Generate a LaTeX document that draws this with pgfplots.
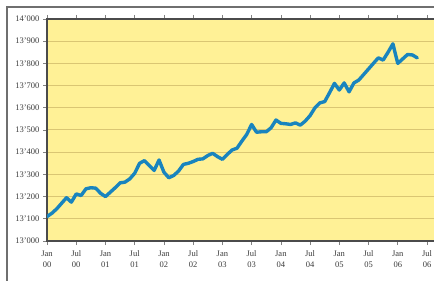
\documentclass[border=0pt]{standalone}
\usepackage{fontspec}
\setmainfont{Liberation Serif}
\usepackage{pgfplots}
\pgfplotsset{compat=1.18}
\definecolor{bgy}{RGB}{255,241,150}
\definecolor{gridy}{RGB}{218,198,115}
\definecolor{lineb}{RGB}{25,132,190}
\definecolor{bord}{RGB}{75,75,75}
\definecolor{txt}{RGB}{60,60,60}
\begin{document}
\begin{tikzpicture}[x=1pt,y=1pt]
\useasboundingbox (0,0) rectangle (434,281);
\fill[white] (0,0) rectangle (434,281);
\draw[bord!80, line width=1.2pt] (7,0) -- (7,274) -- (440,274);
\begin{axis}[
  at={(47pt,40pt)}, anchor=south west,
  scale only axis, width=399.5pt, height=222pt,
  xmin=0, xmax=82, ymin=13000, ymax=14000,
  scaled y ticks=false,
  axis background/.style={fill=bgy},
  axis line style={bord, line width=1.3pt},
  ytick={13000,13100,...,14000},
  yticklabels={13'000,13'100,13'200,13'300,13'400,13'500,13'600,13'700,13'800,13'900,14'000},
  xtick={0,6,...,78},
  xticklabels={Jan\\00,Jul\\00,Jan\\01,Jul\\01,Jan\\02,Jul\\02,Jan\\03,Jul\\03,Jan\\04,Jul\\04,Jan\\05,Jul\\05,Jan\\06,Jul\\06},
  xticklabel style={align=center, font=\fontsize{8.5}{11}\selectfont, text=txt, yshift=-2pt},
  yticklabel style={font=\fontsize{8.5}{10}\selectfont, text=txt},
  tick align=outside, major tick length=4pt,
  tick style={bord!70, line width=0.6pt},
  ymajorgrids, grid style={gridy, line width=1pt},
  clip=true,
]
\addplot[lineb, line width=3.4pt, line join=round, line cap=round] coordinates {
(0,13110)(1,13125)(2,13145)(3,13170)(4,13195)(5,13175)(6,13212)(7,13205)(8,13235)(9,13240)
(10,13238)(11,13215)(12,13200)(13,13220)(14,13240)(15,13262)(16,13265)(17,13280)(18,13305)(19,13350)
(20,13362)(21,13340)(22,13318)(23,13365)(24,13310)(25,13285)(26,13295)(27,13315)(28,13345)(29,13350)
(30,13358)(31,13368)(32,13370)(33,13385)(34,13395)(35,13380)(36,13368)(37,13390)(38,13410)(39,13418)
(40,13450)(41,13480)(42,13525)(43,13490)(44,13492)(45,13492)(46,13510)(47,13545)(48,13530)(49,13528)
(50,13525)(51,13532)(52,13522)(53,13540)(54,13565)(55,13600)(56,13622)(57,13628)(58,13668)(59,13710)
(60,13680)(61,13712)(62,13672)(63,13712)(64,13725)(65,13750)(66,13775)(67,13800)(68,13825)(69,13815)
(70,13850)(71,13888)(72,13800)(73,13820)(74,13840)(75,13838)(76,13825)
};
\end{axis}
\end{tikzpicture}
\end{document}
